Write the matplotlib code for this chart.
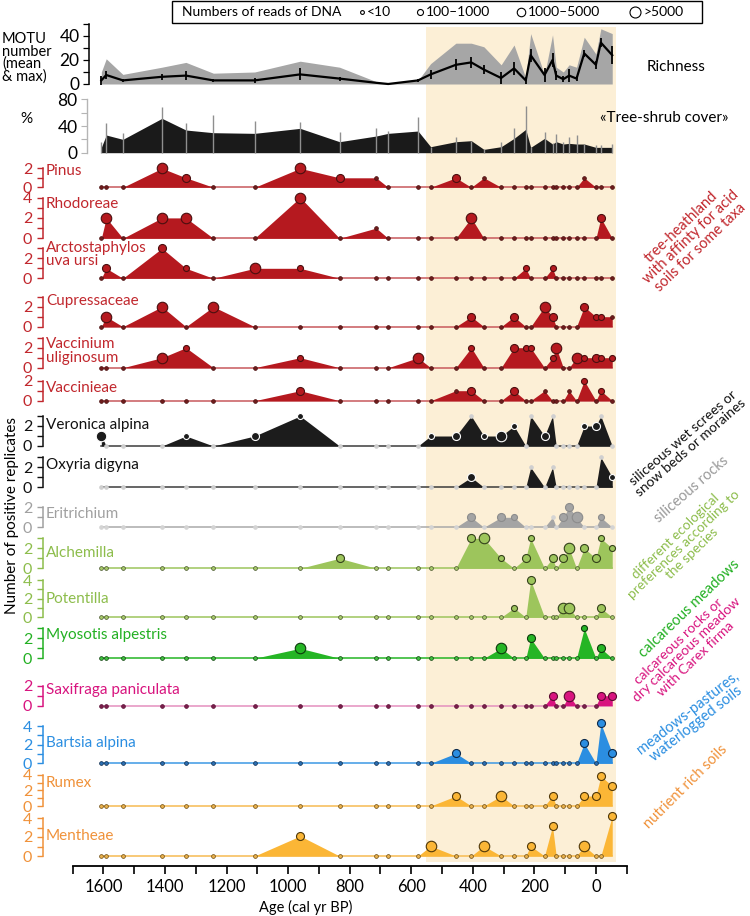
import matplotlib
matplotlib.use("Agg")
import matplotlib.pyplot as plt
from matplotlib.patches import Rectangle

plt.rcParams['font.family'] = ['Lato', 'DejaVu Sans']

W, H, DPI = 750, 916, 100

# ---------------- data ----------------
ages = [1607, 1591, 1537, 1410, 1332, 1243, 1109, 961, 833, 714, 675, 578, 537, 455, 405,
        364, 308, 266, 228, 212, 167, 141, 129, 106, 87, 63, 38, 0, -16, -53]

rich_max = [10, 21, 8, 14, 18, 9, 10, 19, 14, 2, 0.5, 3, 17, 34, 34, 31, 16, 32.5, 5, 42,
            7.5, 41, 14, 10, 16, 14, 39, 25, 46, 42]
rich_mean = [3, 7.5, 3, 6, 7, 3, 3, 8, 4.5, 1, 0, 3, 8, 16, 18, 12, 5, 13, 3, 24,
             7.5, 20, 7, 4, 7, 4.5, 25.5, 16, 34.5, 24]
rich_err = [3.7, 3, 1.5, 2.5, 3.7, 1.5, 2, 5, 1.7, 0.5, 0, 1, 3.5, 4.5, 4.5, 3.5, 5, 5.5, 3, 5.5,
            5.5, 5.5, 4, 2.5, 5.5, 2, 3, 3.5, 3.5, 7.5]

tree_cover = [8, 26.5, 20, 51.5, 34, 30, 29, 36.5, 16.5, 25, 29, 32.5, 9, 16.5, 18, 5, 9, 21.5, 35, 8,
              21.5, 13, 16.5, 13, 14, 13, 13, 8, 8, 8]
tree_max = [16.5, 45, 29, 69, 45, 56.5, 48, 46.5, 30.5, 36.5, 32.5, 53, 9, 24, 18, 5, 16.5, 36.5, 70, 8,
            30.5, 14, 28, 16.5, 24, 26.5, 13, 11.5, 11.5, 13]

# species: replicate counts and read-class codes (0:<10, 1:100-1000, 2:1000-5000, 3:>5000)
pinus_v = [0, 0, 0, 2, 1, 0, 0, 2, 1, 1, 0, 0, 0, 1, 0, 1, 0, 0, 0, 0, 0, 0, 0, 0, 0, 0, 1, 0, 0, 0]
pinus_s = [0, 0, 0, 3, 2, 0, 0, 3, 2, 0, 0, 0, 0, 2, 0, 0, 0, 0, 0, 0, 0, 0, 0, 0, 0, 0, 0, 0, 0, 0]
rhodo_v = [0, 2, 0, 2, 2, 0, 0, 4, 0, 1, 0, 0, 0, 0, 2, 0, 0, 0, 0, 0, 0, 0, 0, 0, 0, 0, 0, 0, 2, 0]
rhodo_s = [0, 3, 0, 3, 3, 0, 0, 3, 0, 0, 0, 0, 0, 0, 3, 0, 0, 0, 0, 0, 0, 0, 0, 0, 0, 0, 0, 0, 2, 0]
arcto_v = [0, 1, 0, 3, 1, 0, 1, 1, 0, 0, 0, 0, 0, 0, 0, 0, 0, 0, 1, 0, 0, 1, 0, 0, 0, 0, 0, 0, 0, 0]
arcto_s = [0, 2, 0, 2, 1, 0, 3, 1, 0, 0, 0, 0, 0, 0, 0, 0, 0, 0, 1, 0, 0, 1, 0, 0, 0, 0, 0, 0, 0, 0]
cupre_v = [0, 1, 0, 2, 0, 2, 0, 0, 0, 0, 0, 0, 0, 0, 1, 0, 0, 1, 0, 0, 2, 1, 0, 0, 0, 0, 2, 1, 1, 1]
cupre_s = [0, 3, 0, 3, 0, 3, 0, 0, 0, 0, 0, 0, 0, 0, 2, 0, 0, 2, 0, 0, 3, 2, 0, 0, 0, 0, 2, 1, 1, 0]
vaccu_v = [0, 0, 0, 1, 2, 0, 0, 1, 0, 0, 0, 1, 0, 0, 2, 0, 0, 2, 2, 2, 0, 1, 2, 0, 0, 1, 1, 1, 1, 1]
vaccu_s = [0, 0, 0, 3, 1, 0, 0, 1, 0, 0, 0, 3, 0, 0, 1, 0, 0, 2, 1, 1, 0, 1, 3, 0, 0, 3, 1, 2, 1, 1]
vacci_v = [0, 0, 0, 0, 0, 0, 0, 1, 0, 0, 0, 0, 0, 1, 1, 0, 0, 1, 0, 0, 1, 0, 0, 0, 1, 0, 2, 0, 1, 0]
vacci_s = [0, 0, 0, 0, 0, 0, 0, 2, 0, 0, 0, 0, 0, 0, 2, 0, 0, 2, 0, 0, 0, 0, 0, 0, 0, 0, 1, 0, 1, 0]
veron_v = [1, 0, 0, 0, 1, 0, 1, 3, 0, 0, 0, 0, 1, 1, 3, 1, 1, 2, 0, 3, 1, 3, 0, 0, 0, 0, 2, 2, 3, 0]
veron_s = [3, 0, 0, 0, 1, 0, 2, 1, 0, 0, 0, 0, 1, 2, 0, 1, 3, 1, 0, 0, 2, 0, 0, 0, 0, 0, 1, 2, 0, 0]
oxyri_v = [0, 0, 0, 0, 0, 0, 0, 0, 0, 0, 0, 0, 0, 0, 1, 0, 0, 0, 0, 2, 0, 2, 0, 0, 0, 0, 0, 0, 3, 1]
oxyri_s = [0, 0, 0, 0, 0, 0, 0, 0, 0, 0, 0, 0, 0, 0, 2, 0, 0, 0, 0, 0, 0, 0, 0, 0, 0, 0, 0, 0, 0, 1]
eritr_v = [0, 0, 0, 0, 0, 0, 0, 0, 0, 0, 0, 0, 0, 0, 1, 0, 1, 1, 0, 0, 0, 1, 0, 1, 2, 1, 0, 0, 1, 0]
eritr_s = [0, 0, 0, 0, 0, 0, 0, 0, 0, 0, 0, 0, 0, 0, 2, 0, 2, 1, 0, 0, 0, 0, 0, 2, 2, 3, 0, 0, 1, 0]
alche_v = [0, 0, 0, 0, 0, 0, 0, 0, 1, 0, 0, 0, 0, 0, 3, 3, 1, 0, 1, 3, 0, 1, 0, 1, 2, 0, 2, 1, 3, 2]
alche_s = [0, 0, 0, 0, 0, 0, 0, 0, 2, 0, 0, 0, 0, 0, 2, 3, 1, 0, 2, 1, 0, 2, 0, 2, 3, 0, 2, 2, 1, 1]
poten_v = [0, 0, 0, 0, 0, 0, 0, 0, 0, 0, 0, 0, 0, 0, 0, 0, 0, 1, 0, 4, 0, 0, 0, 1, 1, 0, 0, 0, 1, 0]
poten_s = [0, 0, 0, 0, 0, 0, 0, 0, 0, 0, 0, 0, 0, 0, 0, 0, 0, 1, 0, 2, 0, 0, 0, 3, 3, 0, 0, 0, 2, 0]
myoso_v = [0, 0, 0, 0, 0, 0, 0, 1, 0, 0, 0, 0, 0, 0, 0, 0, 1, 0, 0, 2, 0, 0, 0, 0, 0, 0, 3, 0, 1, 0]
myoso_s = [0, 0, 0, 0, 0, 0, 0, 3, 0, 0, 0, 0, 0, 0, 0, 0, 3, 0, 0, 2, 0, 0, 0, 0, 0, 0, 1, 0, 2, 0]
saxif_v = [0, 0, 0, 0, 0, 0, 0, 0, 0, 0, 0, 0, 0, 0, 0, 0, 0, 0, 0, 0, 0, 1, 0, 0, 1, 0, 0, 0, 1, 1]
saxif_s = [0, 0, 0, 0, 0, 0, 0, 0, 0, 0, 0, 0, 0, 0, 0, 0, 0, 0, 0, 0, 0, 2, 0, 0, 3, 0, 0, 0, 2, 2]
barts_v = [0, 0, 0, 0, 0, 0, 0, 0, 0, 0, 0, 0, 0, 1, 0, 0, 0, 0, 0, 0, 0, 0, 0, 0, 0, 0, 2, 0, 4, 1]
barts_s = [0, 0, 0, 0, 0, 0, 0, 0, 0, 0, 0, 0, 0, 2, 0, 0, 0, 0, 0, 0, 0, 0, 0, 0, 0, 0, 2, 0, 2, 2]
rumex_v = [0, 0, 0, 0, 0, 0, 0, 0, 0, 0, 0, 0, 0, 1, 0, 0, 1, 0, 0, 0, 0, 1, 0, 0, 0, 0, 1, 1, 3, 2]
rumex_s = [0, 0, 0, 0, 0, 0, 0, 0, 0, 0, 0, 0, 0, 2, 0, 0, 3, 0, 0, 0, 0, 2, 0, 0, 0, 0, 2, 2, 2, 2]
menth_v = [0, 0, 0, 0, 0, 0, 0, 2, 0, 0, 0, 0, 1, 0, 0, 1, 0, 0, 0, 1, 0, 3, 0, 0, 0, 0, 1, 0, 0, 4]
menth_s = [0, 0, 0, 0, 0, 0, 0, 2, 0, 0, 0, 0, 3, 0, 0, 3, 0, 0, 0, 2, 0, 2, 0, 0, 0, 0, 3, 0, 0, 2]

species_labels = ["Pinus", "Rhodoreae", "Arctostaphylos\nuva ursi", "Cupressaceae",
                  "Vaccinium\nuliginosum", "Vaccinieae", "Veronica alpina", "Oxyria digyna",
                  "Eritrichium", "Alchemilla", "Potentilla", "Myosotis alpestris",
                  "Saxifraga paniculata", "Bartsia alpina", "Rumex", "Mentheae"]
species_vals = [pinus_v, rhodo_v, arcto_v, cupre_v, vaccu_v, vacci_v, veron_v, oxyri_v,
                eritr_v, alche_v, poten_v, myoso_v, saxif_v, barts_v, rumex_v, menth_v]
species_size = [pinus_s, rhodo_s, arcto_s, cupre_s, vaccu_s, vacci_s, veron_s, oxyri_s,
                eritr_s, alche_s, poten_s, myoso_s, saxif_s, barts_s, rumex_s, menth_s]
species_group = ["red", "red", "red", "red", "red", "red", "black", "black",
                 "gray", "lgreen", "lgreen", "green", "magenta", "blue", "orange", "orange"]
species_tickmax = [2, 4, 3, 3, 3, 2, 3, 3, 2, 3, 4, 3, 2, 4, 4, 4]

legend_labels = ["<10", "100\u20131000", "1000\u20135000", ">5000"]

group_texts = ["tree-heathland\nwith affinty for acid\nsoils for some taxa",
               "siliceous wet screes or\nsnow beds or moraines",
               "siliceous rocks",
               "different ecological\npreferences according to\nthe species",
               "calcareous meadows",
               "calcareous rocks or\ndry calcareous meadow\nwith Carex firma",
               "meadows-pastures,\nwaterlogged soils",
               "nutrient rich soils"]

# ---------------- layout / styles ----------------
baseline_px = [187.3, 238.3, 278.3, 326.7, 367.7, 400.7, 446.0, 487.3,
               527.3, 568.3, 617.3, 658.3, 705.7, 763.3, 806.0, 856.0]
ppu_px = [9.5, 10.2, 10, 10, 10, 10, 10, 10, 10, 10, 9.3, 10, 10, 10, 10, 10]
tick_scale = [1, 1, 1, 1, 1, 1, 1, 1, 1, 1, 1, 1, 1, 0.93, 0.78, 0.95]
label_base_px = [175, 208.3, 251.7, 305, 348.3, 391.7, 429, 469.3,
                 518.3, 556.7, 603.3, 639, 694, 747.3, 786.7, 840]

STY = {
    "red": dict(fill="#b5191f", line="#c8595c", label="#c1272d", dot="#6e1c1c", dot_e="#4a1010",
                mk="#b5191f", mk_e="#4a0f0f"),
    "black": dict(fill="#1c1c1c", line="#3c3c3c", label="#111111", dot="#cfcfcf", dot_e="#cfcfcf",
                  mk="#1c1c1c", mk_e="#ffffff"),
    "gray": dict(fill="#a4a4a4", line="#a9a9a9", label="#a0a0a0", dot="#d4d4d4", dot_e="#d4d4d4",
                 mk="#a4a4a4", mk_e="#8c8c8c"),
    "lgreen": dict(fill="#9dc55c", line="#9dc55c", label="#8dbd4c", dot="#a7c96a", dot_e="#45532a",
                   mk="#9dc55c", mk_e="#34411b"),
    "green": dict(fill="#25b525", line="#25b525", label="#22b022", dot="#3fbf3f", dot_e="#10400f",
                  mk="#25b525", mk_e="#0c3a0c"),
    "magenta": dict(fill="#d8147f", line="#e48fbe", label="#d8147f", dot="#7b1e4b", dot_e="#5a1035",
                    mk="#d8147f", mk_e="#5a0a30"),
    "blue": dict(fill="#2b8ee1", line="#3c98e4", label="#2b8ee1", dot="#2a6db0", dot_e="#0d2a4a",
                 mk="#2b8ee1", mk_e="#0d2a4a"),
    "orange": dict(fill="#fbb636", line="#f7bb52", label="#f0923a", dot="#e8b04c", dot_e="#6b4b12",
                   mk="#fbb636", mk_e="#4f3708"),
}
group_colors = [STY["red"]["label"], "#111111", "#9a9a9a", STY["lgreen"]["label"],
                STY["green"]["label"], STY["magenta"]["label"], STY["blue"]["label"],
                STY["orange"]["label"]]
group_pos = [(691, 237), (687, 443), (692, 489), (684, 545), (689, 609), (687, 650),
             (692, 718), (686, 787)]
group_rot = [44, 41, 41, 44, 44, 44, 38, 45]
group_fs = [10.5, 10, 10.5, 9.8, 10.5, 10, 10.5, 10.5]

DIA = {0: 3.8, 1: 6.0, 2: 8.0, 3: 10.5}
PT = 0.72

X_LEFT_PX, X_RIGHT_PX = 72.7, 626.7
AGE_LEFT, AGE_RIGHT = 1700, -100
PPY = (X_RIGHT_PX - X_LEFT_PX) / (AGE_LEFT - AGE_RIGHT)


def age_at_px(px):
    return AGE_LEFT - (px - X_LEFT_PX) / PPY


fig = plt.figure(figsize=(W / DPI, H / DPI), dpi=DPI)


def add_axes_px(top, bot):
    ax = fig.add_axes([X_LEFT_PX / W, 1 - bot / H, (X_RIGHT_PX - X_LEFT_PX) / W, (bot - top) / H])
    ax.set_xlim(AGE_LEFT, AGE_RIGHT)
    ax.patch.set_alpha(0)
    for s in ["top", "right", "bottom", "left"]:
        ax.spines[s].set_visible(False)
    ax.set_xticks([])
    ax.set_yticks([])
    return ax


def add_panel(base, ppu, lo, hi):
    ax = add_axes_px(base - hi * ppu, base - lo * ppu)
    ax.set_ylim(lo, hi)
    return ax


# shaded period
ax_bg = add_axes_px(27.3, 862)
ax_bg.set_ylim(0, 1)
ax_bg.axvspan(550.6, -64, color="#fcefd6", lw=0, zorder=0)
ax_bg.set_zorder(-5)

# ---------------- richness ----------------
ax_r = add_panel(84.0, 1.2, -3, 52)
ax_r.fill_between(ages, 0, rich_max, color="#a6a6a6", lw=0, zorder=1)
ax_r.plot(ages, rich_mean, color="black", lw=1.6, zorder=3)
ax_r.vlines(ages, [m - e for m, e in zip(rich_mean, rich_err)],
            [m + e for m, e in zip(rich_mean, rich_err)], color="black", lw=1.3, zorder=3)
ax_r.spines["left"].set_visible(True)
ax_r.spines["left"].set_position(("data", age_at_px(89.3)))
ax_r.spines["left"].set_bounds(0, 50)
ax_r.spines["left"].set_linewidth(1.1)
ax_r.set_yticks([0, 10, 20, 30, 40, 50])
ax_r.set_yticklabels(["0", "", "20", "", "40", ""])
ax_r.tick_params(axis="y", direction="out", length=4.5, width=0.9, pad=2.5, labelsize=12.5)

# ---------------- tree-shrub cover ----------------
ax_t = add_panel(152.7, 0.667, -4, 84)
ax_t.fill_between(ages, 0, tree_cover, color="#1a1a1a", lw=0, zorder=1)
ax_t.vlines(ages, 0, tree_max, color="#8f8f8f", lw=1.0, zorder=2)
ax_t.spines["left"].set_visible(True)
ax_t.spines["left"].set_position(("data", age_at_px(87.3)))
ax_t.spines["left"].set_bounds(0, 80)
ax_t.spines["left"].set_color("#b5b5b5")
ax_t.spines["left"].set_linewidth(1.0)
ax_t.set_yticks([0, 20, 40, 60, 80])
ax_t.set_yticklabels(["0", "", "40", "", "80"])
ax_t.tick_params(axis="y", direction="out", length=4.5, width=0.8, pad=2.5, labelsize=12.5,
                 color="#b5b5b5")

# ---------------- species panels ----------------
for i, (vals, sizes) in enumerate(zip(species_vals, species_size)):
    st = STY[species_group[i]]
    ax = add_panel(baseline_px[i], ppu_px[i], -0.6, 4.8)
    zeros = [0] * len(ages)
    ax.plot(ages, zeros, color=st["line"], lw=1.1, zorder=1)
    ax.fill_between(ages, zeros, vals, color=st["fill"], lw=0, zorder=2)
    order = sorted(range(len(ages)), key=lambda k: -DIA[sizes[k]])
    for k in order:
        a, v, s = ages[k], vals[k], sizes[k]
        if v == 0 or s == 0:
            ax.scatter([a], [v], s=(DIA[0] * PT) ** 2, c=st["dot"], edgecolors=st["dot_e"],
                       linewidths=0.5, zorder=4, clip_on=False)
        else:
            ax.scatter([a], [v], s=(DIA[s] * PT) ** 2, c=st["mk"], edgecolors=st["mk_e"],
                       linewidths=0.8, zorder=5, clip_on=False)
    tm = species_tickmax[i]
    sc = tick_scale[i]
    ax.spines["left"].set_visible(True)
    ax.spines["left"].set_position(("data", age_at_px(42.7)))
    ax.spines["left"].set_bounds(0, tm * sc)
    ax.spines["left"].set_color(st["label"])
    ax.spines["left"].set_linewidth(1.1)
    ax.set_yticks([t * sc for t in range(tm + 1)])
    ax.set_yticklabels([str(t) if t % 2 == 0 else "" for t in range(tm + 1)])
    ax.tick_params(axis="y", direction="out", length=4.5, width=1.0, pad=3, labelsize=11.5,
                   color=st["label"], labelcolor=st["label"])

# ---------------- x axis ----------------
ax_x = add_axes_px(850, 865.7)
ax_x.set_ylim(0, 1)
ax_x.spines["bottom"].set_visible(True)
ax_x.spines["bottom"].set_linewidth(1.3)
xt = list(range(1700, -101, -100))
ax_x.set_xticks(xt)
ax_x.set_xticklabels([str(t) if (t % 200 == 0 and 0 <= t <= 1600) else "" for t in xt])
ax_x.tick_params(axis="x", direction="out", length=5.5, width=1.2, pad=4, labelsize=12)

# ---------------- overlay texts ----------------
ov = fig.add_axes([0, 0, 1, 1])
ov.set_xlim(0, W)
ov.set_ylim(H, 0)
ov.axis("off")
ov.patch.set_alpha(0)

ov.add_patch(Rectangle((171.7, 0.8), 530, 22, fill=False, ec="black", lw=1.0))
ov.text(182, 12, "Numbers of reads of DNA", fontsize=10, va="center", ha="left")
leg_x = [361.7, 420, 520.7, 635]
leg_d = [3.8, 6.0, 8.5, 11]
for x, d, lab in zip(leg_x, leg_d, legend_labels):
    ov.scatter([x], [12], s=(d * PT) ** 2, facecolors="white", edgecolors="black", linewidths=0.8)
    ov.text(x + d / 2 + 3, 12, lab, fontsize=10, va="center", ha="left")

ov.text(2, 58, "MOTU\nnumber\n(mean\n& max)", fontsize=10.5, va="center", ha="left", linespacing=0.85)
ov.text(26, 119, "%", fontsize=11, va="center", ha="center")
ov.text(676, 67, "Richness", fontsize=11, va="center", ha="center")
ov.text(664, 118, "\u00abTree-shrub cover\u00bb", fontsize=11, va="center", ha="center")

for i, lab in enumerate(species_labels):
    st = STY[species_group[i]]
    lines = lab.split("\n")
    for j, ln in enumerate(lines):
        ov.text(46, label_base_px[i] + 13.4 * j, ln, fontsize=11, color=st["label"],
                va="baseline", ha="left")

ov.text(12, 515, "Number of positive replicates", fontsize=11, rotation=90, va="center", ha="center")
ov.text(306, 907, "Age (cal yr BP)", fontsize=10.5, va="center", ha="center")

for txt, col, (x, y), rot, fs in zip(group_texts, group_colors, group_pos, group_rot, group_fs):
    ov.text(x, y, txt, fontsize=fs, color=col, rotation=rot, va="center", ha="center",
            linespacing=1.0, rotation_mode="anchor", multialignment="center")

fig.savefig("out.png", dpi=DPI)
